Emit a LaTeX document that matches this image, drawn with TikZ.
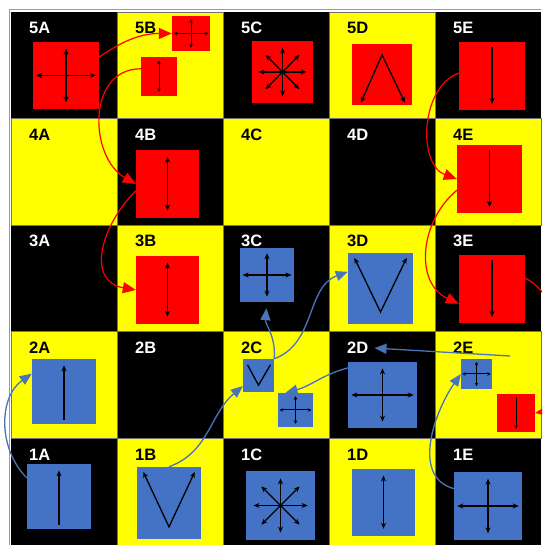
\documentclass[tikz,border=0pt]{standalone}
\usepackage{fontspec}
\setsansfont{Liberation Sans}
\usepackage{tikz}
\usetikzlibrary{arrows.meta, calc, positioning}

\definecolor{boardyellow}{HTML}{FFFF00}
\definecolor{piecered}{HTML}{FF0000}
\definecolor{pieceblue}{HTML}{4472C4}
\definecolor{linkblue}{HTML}{4A74B8}

\tikzset{
  cellname/.style={font=\sffamily\bfseries\fontsize{16.5}{16.5}\selectfont, anchor=west, inner sep=1pt},
  pcsize/.style 2 args={minimum width=#1pt, minimum height=#2pt, inner sep=0pt},
  redpc/.style={fill=piecered},
  bluepc/.style={fill=pieceblue},
  move/.style={black, line width=1.3pt},
  redlink/.style={draw=piecered, line width=1.2pt, -{Triangle[length=13pt,width=11pt]}},
  bluelink/.style={draw=linkblue, line width=1.3pt, -{Triangle[length=12pt,width=10pt]}},
  % unit square inside a piece
  inside/.style={x={($(#1.south east)-(#1.south west)$)}, y={($(#1.north west)-(#1.south west)$)}, shift={(#1.south west)}}
}

% move symbols drawn in a piece
\newcommand{\symcross}[1]{\begin{scope}[inside=#1]
  \draw[move,<->] (0.5,0.1) -- (0.5,0.9);
  \draw[move,<->] (0.05,0.5) -- (0.95,0.5);
\end{scope}}
\newcommand{\symvert}[1]{\begin{scope}[inside=#1]
  \draw[move,<->] (0.5,0.11) -- (0.5,0.9);
\end{scope}}
\newcommand{\symdown}[1]{\begin{scope}[inside=#1]
  \draw[move,->] (0.5,0.92) -- (0.5,0.09);
\end{scope}}
\newcommand{\symup}[1]{\begin{scope}[inside=#1]
  \draw[move,->] (0.5,0.07) -- (0.5,0.9);
\end{scope}}
\newcommand{\symstar}[1]{\begin{scope}[inside=#1]
  \draw[move,<->] (0.5,0.11) -- (0.5,0.89);
  \draw[move,<->] (0.11,0.5) -- (0.89,0.5);
  \draw[move,<->] (0.224,0.224) -- (0.776,0.776);
  \draw[move,<->] (0.224,0.776) -- (0.776,0.224);
\end{scope}}
\newcommand{\symvee}[1]{\begin{scope}[inside=#1]
  \draw[move,<->] (0.1,0.93) -- (0.5,0.17) -- (0.9,0.93);
\end{scope}}
\newcommand{\symlambda}[1]{\begin{scope}[inside=#1]
  \draw[move,<->] (0.15,0.04) -- (0.5,0.82) -- (0.88,0.04);
\end{scope}}
\newcommand{\symplainv}[1]{\begin{scope}[inside=#1]
  \draw[move] (0.15,0.82) -- (0.5,0.21) -- (0.88,0.82);
\end{scope}}

\begin{document}
\begin{tikzpicture}[x=1pt, y=1pt, >={Stealth[length=6pt,width=5pt]}]
  \useasboundingbox (0,0) rectangle (542,545);
  \clip (0,0) rectangle (542,545);

  % Board
  \fill[black] (11,0) rectangle (541,533);
  \draw[black!40, line width=1pt] (9,0) -- (9,535) -- (541,535);
  \foreach \c/\col in {0/A,1/B,2/C,3/D,4/E}
    \foreach \r in {1,...,5} {
      \pgfmathtruncatemacro{\odd}{mod(\c+\r,2)}
      \ifnum\odd=0
        \filldraw[fill=boardyellow, draw=black!55, line width=0.6pt] (11+106*\c,106.6*\r-106.6) rectangle ++(106,106.6);
        \node[cellname, text=black] (l\r\col) at (28+106*\c,106.6*\r-16) {\r\col};
      \else
        \node[cellname, text=white] (l\r\col) at (28+106*\c,106.6*\r-16) {\r\col};
      \fi
    }

  % Red pieces
  \node[redpc, pcsize={66}{67}] (p5A) at (66,469.5) {};
  \node[redpc, pcsize={38}{35}] (p5Bs) at (191,511.5) {};
  \node[redpc, pcsize={36}{39}] (p5Bv) at (159,468.5) {};
  \node[redpc, pcsize={61}{62}] (p5C) at (282.5,473) {};
  \node[redpc, pcsize={60}{61}] (p5D) at (382,470.5) {};
  \node[redpc, pcsize={66}{68}] (p5E) at (492,469) {};
  \node[redpc, pcsize={63}{68}] (p4B) at (167.5,361) {};
  \node[redpc, pcsize={65}{68}] (p4E) at (489.5,366) {};
  \node[redpc, pcsize={63}{68}] (p3B) at (167.5,255) {};
  \node[redpc, pcsize={66}{68}] (p3E) at (492,256) {};
  \node[redpc, pcsize={38}{38}] (p2Ev) at (516,132) {};

  % Blue pieces
  \node[bluepc, pcsize={54}{54}] (p3C) at (267,270) {};
  \node[bluepc, pcsize={65}{71}] (p3D) at (380.5,256.5) {};
  \node[bluepc, pcsize={64}{65}] (p2A) at (64,153.5) {};
  \node[bluepc, pcsize={31}{33}] (p2Cv) at (258.5,169.5) {};
  \node[bluepc, pcsize={35}{34}] (p2Cx) at (295.5,135) {};
  \node[bluepc, pcsize={69}{66}] (p2D) at (382.5,150) {};
  \node[bluepc, pcsize={31}{30}] (p2Ex) at (476.5,171) {};
  \node[bluepc, pcsize={64}{65}] (p1A) at (59,48.5) {};
  \node[bluepc, pcsize={64}{72}] (p1B) at (169,42) {};
  \node[bluepc, pcsize={69}{69}] (p1C) at (280.5,39.5) {};
  \node[bluepc, pcsize={63}{67}] (p1D) at (383.5,42.5) {};
  \node[bluepc, pcsize={68}{68}] (p1E) at (488,39) {};

  % Moves of each piece
  \symcross{p5A}
  \symstar{p5C}
  \symlambda{p5D}
  \symdown{p5E}
  \symvert{p4B}
  \symdown{p4E}
  \symvert{p3B}
  \symcross{p3C}
  \symvee{p3D}
  \symdown{p3E}
  \symup{p2A}
  \symplainv{p2Cv}
  \symcross{p2D}
  \symup{p1A}
  \symvee{p1B}
  \symstar{p1C}
  \symvert{p1D}
  \symcross{p1E}
  \begin{scope}[>={Stealth[length=3.5pt,width=3.5pt]}, move/.append style={line width=1pt}]
    \symcross{p5Bs}
    \symvert{p5Bv}
    \symcross{p2Cx}
    \symcross{p2Ex}
    \symdown{p2Ev}
  \end{scope}

  % Red paths
  \draw[redlink] (p5A.29) to[out=35,in=180] (p5Bs.west);
  \draw[redlink] (p5Bv.157) to[out=180,in=150,looseness=1.2] (p4B.west);
  \draw[redlink] (p4B.192) to[out=225,in=170,looseness=1.3] (p3B.west);
  \draw[redlink] (p5E.175) to[out=200,in=160] (p4E.west);
  \draw[redlink] (p4E.199) to[out=220,in=155,looseness=1.1] (p3E.204);
  \draw[redlink] (p3E.18) to[out=-25,in=10,looseness=0.9] (p2Ev.east);

  % Blue paths
  \draw[bluelink] (p1A.150) to[out=135,in=215] (p2A.151);
  \draw[bluelink] (p1B.north) to[out=20,in=220] (p2Cv.214);
  \draw[bluelink, shorten >=6pt] (p2Cv.north east) to[out=85,in=-95] (p3C.south);
  \draw[bluelink] (p2Cv.north east) to[out=20,in=200] (p3D.153);
  \draw[bluelink] (p2D.142) to[out=195,in=15] (p2Cx.120);
  \coordinate (e2E) at (510,189);
  \draw[bluelink, shorten >=5pt] (e2E) -- (l2D.east);
  \draw[bluelink] (p1E.153) to[out=165,in=235] (p2Ex.west);
\end{tikzpicture}
\end{document}
